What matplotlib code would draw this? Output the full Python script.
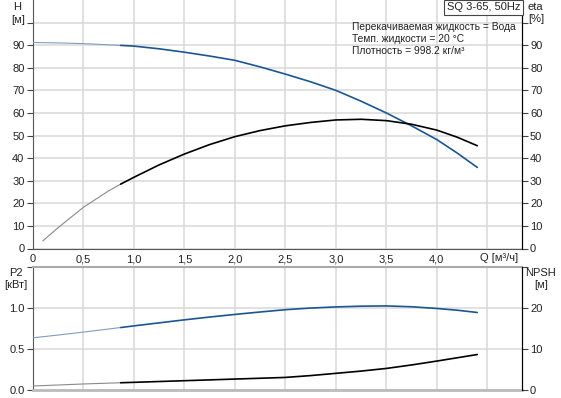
import matplotlib
matplotlib.use("Agg")
import matplotlib.pyplot as plt
import numpy as np

q = [0.0, 0.25, 0.5, 0.87, 1.0, 1.25, 1.5, 1.75, 2.0, 2.25, 2.5, 2.75,
     3.0, 3.25, 3.5, 3.75, 4.0, 4.2, 4.4]
head = [91.2, 91.0, 90.7, 89.9, 89.6, 88.4, 86.9, 85.2, 83.3, 80.4, 77.2, 73.8,
        70.0, 65.2, 60.0, 54.3, 48.2, 42.3, 35.9]
p2 = [0.634, 0.668, 0.704, 0.760, 0.780, 0.817, 0.854, 0.888, 0.920, 0.950,
      0.978, 0.998, 1.012, 1.021, 1.024, 1.014, 0.993, 0.972, 0.944]
npsh = [0.9, 1.15, 1.4, 1.7, 1.8, 2.0, 2.2, 2.4, 2.6, 2.8, 3.0, 3.45,
        4.0, 4.55, 5.2, 6.05, 7.0, 7.8, 8.6]
q_eta = [0.1, 0.25, 0.5, 0.75, 0.87, 1.0, 1.25, 1.5, 1.75, 2.0, 2.25, 2.5,
         2.75, 3.0, 3.25, 3.5, 3.75, 4.0, 4.2, 4.4]
eta = [3.4, 9.2, 18.2, 25.5, 28.5, 31.5, 37.0, 41.8, 46.0, 49.5, 52.2, 54.3,
       55.8, 56.9, 57.2, 56.6, 55.0, 52.4, 49.3, 45.5]

q_split = 0.87  # start of the bold (working range) part of each curve
x_ticks = [0, 0.5, 1.0, 1.5, 2.0, 2.5, 3.0, 3.5, 4.0]
x_labels = ['0', '0,5', '1,0', '1,5', '2,0', '2,5', '3,0', '3,5', '4,0']

BLUE = '#1b5593'
BLUE_THIN = '#7f9cc0'
GRID = '#d8d8d8'
TXT = '#222222'

plt.rcParams['font.family'] = ['Liberation Sans', 'DejaVu Sans']
plt.rcParams['font.size'] = 8
plt.rcParams['text.color'] = TXT
plt.rcParams['xtick.color'] = '#444444'
plt.rcParams['ytick.color'] = '#444444'
plt.rcParams['xtick.labelcolor'] = TXT
plt.rcParams['ytick.labelcolor'] = TXT

W, H = 561, 398
fig = plt.figure(figsize=(W / 100, H / 100), dpi=100)


def px(x, y):
    return x / W, 1 - y / H


def split_plot(ax, x, y, color, thin_color, lw=1.2):
    x = np.asarray(x)
    y = np.asarray(y)
    m1 = x <= q_split
    m2 = x >= q_split
    ax.plot(x[m1], y[m1], color=thin_color, lw=0.8, zorder=3)
    ax.plot(x[m2], y[m2], color=color, lw=lw, zorder=3,
            solid_joinstyle='round', solid_capstyle='round')


def style_axes(ax):
    ax.set_xlim(0, 4.84)
    ax.set_xticks(x_ticks + [4.5])
    ax.grid(True, color=GRID, lw=1.1)
    ax.set_axisbelow(True)
    ax.tick_params(direction='out', length=4, width=0.8, pad=2)
    ax.spines['top'].set_visible(False)
    ax.spines['left'].set_color('#555555')
    ax.spines['right'].set_color('black')


# ---- top: head and efficiency
ax1 = fig.add_axes([32.8 / W, 1 - 248.5 / H, (521.7 - 32.8) / W, 248.5 / H])
style_axes(ax1)
ax1.set_ylim(0, 110)
ax1.set_yticks(range(0, 101, 10))
ax1.set_yticklabels([str(v) for v in range(0, 91, 10)] + [''])
ax1.set_xticklabels(x_labels + [''])
ax1.spines['bottom'].set_color('#555555')
ax1.tick_params(axis='x', length=0, pad=4)
split_plot(ax1, q, head, BLUE, BLUE_THIN)

ax1r = ax1.twinx()
ax1r.set_ylim(0, 110)
ax1r.set_yticks(range(0, 101, 10))
ax1r.set_yticklabels([str(v) for v in range(0, 91, 10)] + [''])
ax1r.tick_params(direction='out', length=4, width=0.8, pad=2)
for s in ['top', 'left', 'bottom']:
    ax1r.spines[s].set_visible(False)
ax1r.spines['right'].set_color('black')
split_plot(ax1r, q_eta, eta, 'black', '#8a8a8a')

# model box and liquid info
fig.text(*px(483.5, 7.5), 'SQ 3-65, 50Hz', ha='center', va='center',
         bbox=dict(boxstyle='square,pad=0.25', fc='white', ec='#444444', lw=0.8))
info_size = 7.4
fig.text(*px(351.5, 27), 'Перекачиваемая жидкость = Вода', ha='left', va='center', fontsize=info_size)
fig.text(*px(351.5, 39), 'Темп. жидкости = 20 °C', ha='left', va='center', fontsize=info_size)
fig.text(*px(351.5, 51), 'Плотность = 998.2 кг/м³', ha='left', va='center', fontsize=info_size)

fig.text(*px(17, 7), 'H', ha='center', va='center')
fig.text(*px(25, 20), '[м]', ha='right', va='center')
fig.text(*px(528, 7), 'eta', ha='left', va='center')
fig.text(*px(528, 19), '[%]', ha='left', va='center')
fig.text(*px(499, 258), 'Q [м³/ч]', ha='center', va='center')

# ---- bottom: power and NPSH
ax2 = fig.add_axes([32.8 / W, 1 - 389.7 / H, (521.7 - 32.8) / W, (389.7 - 267) / H])
style_axes(ax2)
ax2.set_ylim(0, 1.5)
ax2.set_yticks([0, 0.5, 1.0, 1.5])
ax2.set_yticklabels(['0.0', '0.5', '1.0', ''])
ax2.tick_params(axis='x', length=0, labelbottom=False)
ax2.spines['top'].set_visible(True)
ax2.spines['top'].set_color('#aaaaaa')
ax2.spines['top'].set_linewidth(1.5)
ax2.spines['bottom'].set_color('#bbbbbb')
ax2.spines['bottom'].set_linewidth(2)
split_plot(ax2, q, p2, BLUE, BLUE_THIN)

ax2r = ax2.twinx()
ax2r.set_ylim(0, 30)
ax2r.set_yticks([0, 10, 20, 30])
ax2r.set_yticklabels(['0', '10', '20', ''])
ax2r.tick_params(direction='out', length=4, width=0.8, pad=2)
for s in ['top', 'left', 'bottom']:
    ax2r.spines[s].set_visible(False)
ax2r.spines['right'].set_color('black')
split_plot(ax2r, q, npsh, 'black', '#8a8a8a')

fig.text(*px(15.5, 273), 'P2', ha='center', va='center')
fig.text(*px(16, 285), '[кВт]', ha='center', va='center')
fig.text(*px(541, 273), 'NPSH', ha='center', va='center')
fig.text(*px(541, 285), '[м]', ha='center', va='center')

fig.savefig('out.png', dpi=100)
